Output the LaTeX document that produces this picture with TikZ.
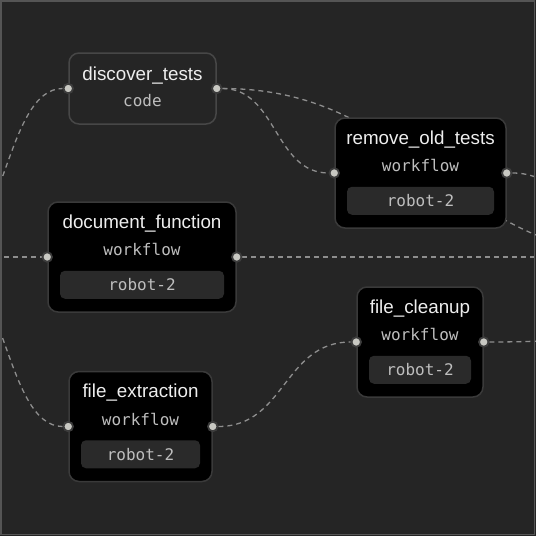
\documentclass[tikz,border=0pt]{standalone}
\usepackage{fontspec}
\setmainfont{Liberation Sans}
\setmonofont{DejaVu Sans Mono}
\usetikzlibrary{positioning}
\definecolor{canvas}{HTML}{252525}
\definecolor{framegray}{HTML}{555555}
\definecolor{cardline}{HTML}{3A3A3A}
\definecolor{codeline}{HTML}{474747}
\definecolor{badgefill}{HTML}{2A2A2A}
\definecolor{titletext}{HTML}{EEEEEE}
\definecolor{monotext}{HTML}{BEBEBE}
\definecolor{wiregray}{HTML}{8E8E8E}
\definecolor{portfill}{HTML}{C8C8C2}
\definecolor{portring}{HTML}{3C3C3C}
\pgfdeclarelayer{back}
\pgfdeclarelayer{wires}
\pgfsetlayers{back,wires,main}

\begin{document}
\begin{tikzpicture}[x=1pt,y=-1pt,
    card/.style={draw=cardline,line width=1.5pt,fill=black,rounded corners=10pt,inner sep=0pt},
    badge/.style={fill=badgefill,rounded corners=5pt,minimum height=28pt,inner sep=0pt,
      text=monotext,font=\fontsize{16}{18}\selectfont\ttfamily},
    title/.style={anchor=base,inner sep=0pt,text=titletext,font=\fontsize{18.8}{20}\selectfont},
    kind/.style={anchor=base,inner sep=0pt,text=monotext,font=\fontsize{16}{18}\selectfont\ttfamily},
    port/.style={circle,fill=portfill,draw=portring,line width=1.8pt,minimum size=9.5pt,inner sep=0pt},
    wire/.style={draw=wiregray,line width=1.3pt,dash pattern=on 5pt off 4pt}]
  \useasboundingbox (0,0) rectangle (536,536);
  \begin{pgfonlayer}{back}
    \fill[canvas] (0,0) rectangle (536,536);
  \end{pgfonlayer}

  % code node
  \node[card,fill=canvas,draw=codeline,minimum width=147pt,minimum height=71pt] (disc) at (142.5,88.5) {};
  \node[title] (disc-title) at ([yshift=-28.5pt]disc.north) {discover\_tests};
  \node[kind] (disc-kind) at ([yshift=-54.5pt]disc.north) {code};
  \node[port] (disc-in) at (disc.west) {};
  \node[port] (disc-out) at (disc.east) {};

  % workflow nodes
  \foreach \n/\x/\y/\w/\t in {rot/420.5/173/171/remove\_old\_tests,
      docf/142/257/188/document\_function,
      clean/420/342/126/file\_cleanup,
      extr/140.5/426.5/143/file\_extraction}{
    \node[card,minimum width=\w pt,minimum height=110pt] (\n) at (\x,\y) {};
    \node[title] (\n-title) at ([yshift=-27pt]\n.north) {\t};
    \node[kind] (\n-kind) at ([yshift=-54.5pt]\n.north) {workflow};
    \node[badge,minimum width={(\w-24)*1pt}] (\n-badge) at ([yshift=-83.5pt]\n.north) {robot-2};
    \node[port] (\n-in) at (\n.west) {};
    \node[port] (\n-out) at (\n.east) {};
  }

  \coordinate (src) at (-59,257);
  \coordinate (sink) at (650,257);
  \coordinate (far) at (900,300);

  \begin{pgfonlayer}{wires}
    \draw[wire] (src) .. controls +(64,0) and +(-64,0) .. (disc-in);
    \draw[wire] (src) -- (docf-in);
    \draw[wire] (src) .. controls +(64,0) and +(-64,0) .. (extr-in);
    \draw[wire] (disc-out) .. controls +(60,0) and +(-60,0) .. (rot-in);
    \draw[wire] (disc-out) .. controls +(200,0) and +(-200,0) .. (sink);
    \draw[wire] (rot-out) .. controls +(72,0) and +(-72,0) .. (sink);
    \draw[wire] (docf-out) -- (sink);
    \draw[wire] (extr-out) .. controls +(72.5,0) and +(-72.5,0) .. (clean-in);
    \draw[wire] (clean-out) .. controls +(209,0) and +(-209,0) .. (far);
  \end{pgfonlayer}

  \draw[framegray,line width=1.5pt] (0.75,0.75) rectangle (534.5,534.5);
\end{tikzpicture}
\end{document}
